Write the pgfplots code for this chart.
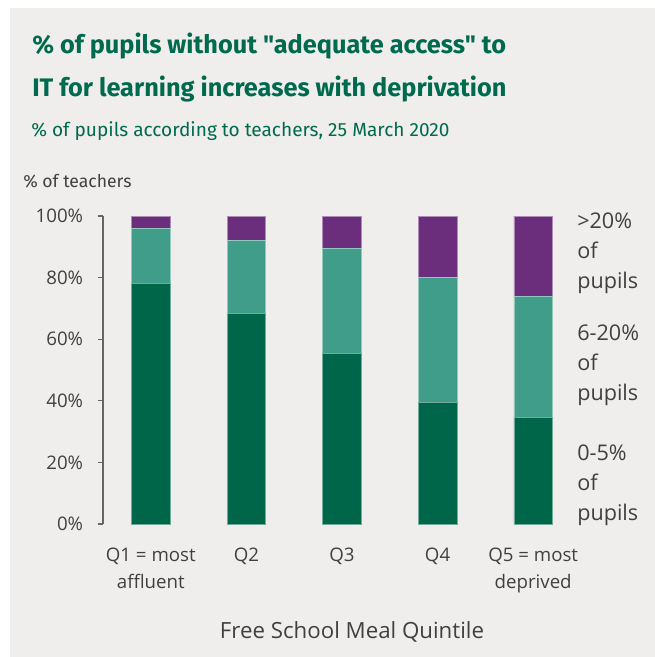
\documentclass[border=0pt]{standalone}
\usepackage{fontspec}
\setmainfont{Open Sans}
\newfontfamily\titlefont{Fira Sans}
\usepackage{pgfplots}
\pgfplotsset{compat=1.18}
\definecolor{bg}{HTML}{EFEEEC}
\definecolor{dkg}{HTML}{00664A}
\definecolor{tealc}{HTML}{409D89}
\definecolor{purp}{HTML}{6A2E7C}
\definecolor{txt}{HTML}{404040}
\definecolor{ttl}{HTML}{006A4E}
\pgfplotstableread{
x g t p
0 78.0 18.0 4.0
1 68.5 23.5 8.0
2 55.5 34.0 10.5
3 39.5 40.5 20.0
4 34.5 39.5 26.0
}\datatab
\begin{document}
\begin{tikzpicture}
\begin{scope}[x=0.75pt,y=-0.75pt]
\useasboundingbox (0,0) rectangle (655,657);
\fill[white] (0,0) rectangle (655,657);
\fill[bg] (10,8) rectangle (655,657);
% titles
\node[anchor=base west,inner sep=0pt,text=ttl,font=\titlefont\bfseries\fontsize{19}{22}\selectfont] at (32,53) {\% of pupils without "adequate access" to};
\node[anchor=base west,inner sep=0pt,text=ttl,font=\titlefont\bfseries\fontsize{19}{22}\selectfont] at (32,96) {IT for learning increases with deprivation};
\node[anchor=base west,inner sep=0pt,text=ttl,font=\titlefont\fontsize{14.3}{16}\selectfont] at (31,136) {\% of pupils according to teachers, 25 March 2020};
\node[anchor=base west,inner sep=0pt,text=txt,font=\titlefont\fontsize{13.2}{16}\selectfont] at (23,187) {\% of teachers};
% legend labels
\foreach \t/\yy in {{>20\%}/228,of/258,pupils/288,6-20\%/340,of/370,pupils/400,0-5\%/460,of/490,pupils/520}{
  \node[anchor=base west,inner sep=0pt,text=txt,font=\fontsize{16.2}{18}\selectfont] at (577,\yy) {\t};
}
\node[anchor=base,inner sep=0pt,text=txt,font=\fontsize{16.7}{18}\selectfont] at (352,638) {Free School Meal Quintile};
\end{scope}
\begin{axis}[
  at={(77.25pt,-393pt)}, anchor=south west,
  scale only axis, width=358.5pt, height=231pt,
  xmin=-0.5, xmax=4.5, ymin=0, ymax=100,
  axis lines*=left,
  x axis line style={draw=none},
  y axis line style={color=txt!80, line width=0.8pt},
  xtick=data, xtick style={draw=none},
  xticklabels={Q1 = most\\affluent, Q2, Q3, Q4, Q5 = most\\deprived},
  xticklabel style={align=center, anchor=north, inner sep=0pt, yshift=-14pt, text=txt, font=\fontsize{14}{20.25}\selectfont},
  ytick={0,20,40,60,80,100},
  yticklabels={0\%,20\%,40\%,60\%,80\%,100\%},
  tick align=outside, major tick length=3.75pt,
  ytick style={color=txt!80, line width=0.8pt},
  yticklabel style={anchor=east, inner sep=0pt, xshift=-11pt, text=txt, font=\fontsize{14}{16}\selectfont},
  ybar stacked, bar width=29pt,
  clip=false,
]
\addplot[fill=dkg, draw=dkg!55!white, line width=0.4pt] table[x=x,y=g] {\datatab};
\addplot[fill=tealc, draw=tealc!55!white, line width=0.4pt] table[x=x,y=t] {\datatab};
\addplot[fill=purp, draw=purp!55!white, line width=0.4pt] table[x=x,y=p] {\datatab};
\end{axis}
\end{tikzpicture}
\end{document}
